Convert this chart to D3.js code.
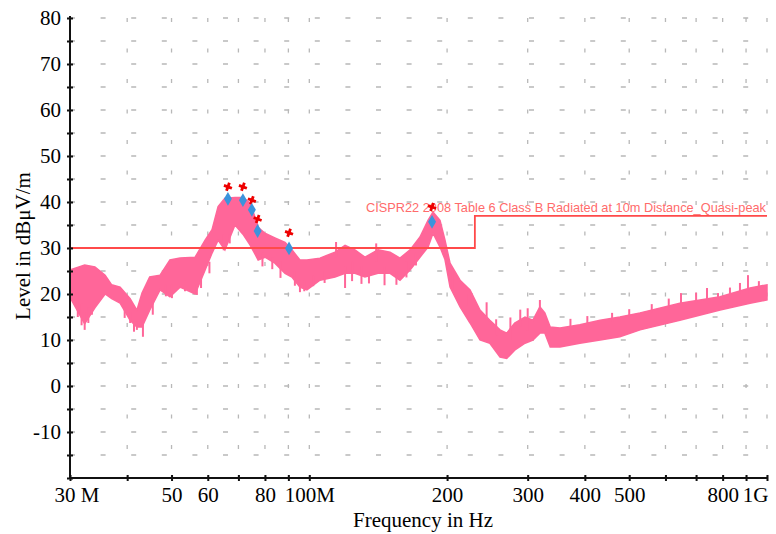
<!DOCTYPE html>
<html>
<head>
<meta charset="utf-8">
<script src="https://cdn.jsdelivr.net/npm/d3@7"></script>
<style>
  html, body { margin: 0; padding: 0; background: #fff; }
  svg { display: block; }
</style>
</head>
<body>
<svg id="chart"></svg>
<script>
// measured trace envelope (MHz, dBuV/m)
const freqs = [30, 32.3, 34.0, 35.8, 37.0, 38.6, 40.6, 42.0, 43.1, 44.8, 47.2, 49.6, 52.2, 56.3, 59.2, 61.3, 63.2, 65.4, 68.8, 71.6, 74.2, 75.8, 77.3, 80.0, 84.1, 88.5, 91.6, 95.4, 98.8, 105.5, 113.8, 119.7, 125.8, 132.3, 141.3, 150.1, 157.8, 166.0, 174.5, 181.7, 186.3, 193.0, 197.9, 203, 213.5, 224.5, 236, 248, 261, 270, 281, 296, 308, 319, 327, 336, 353, 390, 432, 477, 528, 645, 790, 918, 1000];
const upper = [25.2, 26.3, 25.9, 24.1, 22.0, 21.5, 19.0, 16.5, 20.2, 23.7, 24.1, 27.4, 27.8, 28.0, 31.7, 34.0, 39.0, 40.8, 41.0, 41.0, 39.8, 37.2, 34.5, 33.2, 32.2, 31.2, 29.6, 27.4, 27.4, 27.8, 29.1, 30.6, 29.6, 28.0, 29.6, 29.1, 27.8, 29.6, 32.4, 36.0, 37.8, 36.0, 31.7, 26.7, 23.0, 20.9, 16.5, 14.3, 12.2, 11.5, 13.7, 15.0, 14.3, 17.2, 15.9, 12.8, 12.6, 13.3, 14.3, 15.0, 15.9, 18.0, 19.4, 21.3, 22.0];
const lower = [19.3, 13.5, 17.0, 20.0, 19.0, 18.0, 14.3, 12.8, 12.8, 16.5, 20.9, 19.4, 21.5, 20.0, 25.2, 28.9, 31.7, 29.6, 35.0, 33.0, 30.7, 29.0, 27.4, 28.0, 26.7, 24.5, 23.7, 21.5, 20.9, 23.0, 23.7, 24.5, 24.5, 23.7, 24.5, 24.5, 23.0, 25.2, 28.0, 30.2, 33.2, 30.2, 27.5, 21.5, 17.2, 13.7, 10.0, 9.3, 6.3, 6.0, 7.8, 9.3, 10.0, 11.5, 11.5, 8.5, 8.5, 9.3, 10.0, 10.7, 12.2, 14.3, 16.5, 18.0, 18.7];

// single spikes sticking out of the band: [MHz, from, to]
const spikes = [
  [31.2, 20, 15], [31.8, 18, 13.2], [32.3, 16, 12.2], [32.9, 17, 13.7], [33.5, 18, 15.5],
  [39.5, 17, 14.8], [40.6, 16, 13.7], [41.4, 15, 11.8], [42.0, 14, 12.2], [43.3, 14, 10.7],
  [45.5, 19, 15.5], [48.6, 22, 19.5], [50.1, 22, 19.1], [53.5, 23, 20.6], [56.8, 22, 19.8],
  [58.0, 24, 21.3], [60.5, 27, 24.5], [65.0, 33, 29.5], [67.0, 33, 31.0], [79.0, 29, 26.0],
  [83.0, 28, 25.4], [86.5, 27, 23.5], [93.0, 25, 21.8], [95.4, 23, 20.4], [97.5, 23, 20.6],
  [102, 24, 21.7], [108, 25, 22.4], [114.4, 28, 31.3], [119.7, 26, 21.3], [124, 27, 22.8],
  [130, 26, 22.2], [135, 25, 22.3], [140, 27, 31.0], [146, 26, 21.9], [155, 25, 22.0],
  [163, 27, 23.6], [171, 29, 26.2], [206, 25, 21.0], [220, 20, 17.4], [244, 15, 18.2],
  [256, 11, 14.5], [275, 10, 14.9], [289, 13, 16.6], [300, 12, 16.9], [319, 15, 18.7],
  [372, 12, 14.6], [405, 13, 15.2], [458.7, 14, 15.9], [500, 15, 16.7], [560, 16, 17.8],
  [610, 17, 19.0], [648.7, 17, 20.2], [700, 18, 20.3], [739.5, 18, 21.3], [781.5, 19, 20.2],
  [830, 19, 21.4], [872.8, 20, 22.4], [908.7, 20, 24.1], [960, 21, 22.8]
];

// limit line: CISPR22 Class B, 10 m
const limitFreqs = [30, 230, 230, 1000];
const limitLevels = [30, 30, 37, 37];
const limitLabel = "CISPR22 2008 Table 6 Class B Radiated at 10m Distance_Quasi-peak";

// final measurement points
const qpFreqs = [66.4, 71.6, 74.9, 77.1, 90.3, 185.4];
const qpLevels = [40.7, 40.4, 38.3, 33.7, 29.9, 35.7];
const pkLevels = [43.3, 43.3, 40.4, 36.3, 33.3, 38.9];

const xTicks = [30, 40, 50, 60, 70, 80, 90, 100, 200, 300, 400, 500, 600, 700, 800, 900, 1000];
const xLabels = {30: "30 M", 50: "50", 60: "60", 80: "80", 100: "100M", 200: "200", 300: "300", 400: "400", 500: "500", 800: "800", 1000: "1G"};
const yTicks = d3.range(-20, 81, 5);
const yLabels = d3.range(-10, 81, 10);

const W = 776, H = 534;
const svg = d3.select("#chart").attr("width", W).attr("height", H);

const x = d3.scaleLog().domain([30, 1000]).range([70, 767]);
const y = d3.scaleLinear().domain([-20, 80]).range([478, 18]);

const serif = "'Times New Roman', 'Liberation Serif', serif";

// dashed grid
const grid = svg.append("g");
grid.selectAll("line.h")
  .data(yTicks.filter(v => v > -20))
  .enter().append("line")
  .attr("x1", x(30)).attr("x2", x(1000))
  .attr("y1", d => y(d)).attr("y2", d => y(d))
  .attr("stroke", "#b8b8b8").attr("stroke-width", 1.3)
  .attr("stroke-dasharray", "5,25.6");
grid.selectAll("line.v")
  .data(xTicks.slice(1))
  .enter().append("line")
  .attr("x1", d => x(d)).attr("x2", d => x(d))
  .attr("y1", y(80)).attr("y2", y(-20))
  .attr("stroke", "#b8b8b8").attr("stroke-width", 1.3)
  .attr("stroke-dasharray", "4,26.5");

// trace
const band = freqs.map((f, i) => ({f, hi: upper[i], lo: lower[i]}));
svg.append("path")
  .datum(band)
  .attr("fill", "#ff6699")
  .attr("stroke", "#ff6699")
  .attr("stroke-width", 1.5)
  .attr("d", d3.area().x(d => x(d.f)).y0(d => y(d.lo)).y1(d => y(d.hi)));

svg.append("g").selectAll("line")
  .data(spikes)
  .enter().append("line")
  .attr("x1", d => x(d[0])).attr("x2", d => x(d[0]))
  .attr("y1", d => y(d[1])).attr("y2", d => y(d[2]))
  .attr("stroke", "#ff6699").attr("stroke-width", 2);

// limit
svg.append("path")
  .datum(limitFreqs.map((f, i) => [f, limitLevels[i]]))
  .attr("fill", "none")
  .attr("stroke", "#ff4a4a")
  .attr("stroke-width", 1.8)
  .attr("d", d3.line().x(d => x(d[0])).y(d => y(d[1])));

svg.append("text")
  .attr("x", 366).attr("y", y(37) - 4)
  .attr("font-family", "Arial, 'Liberation Sans', sans-serif")
  .attr("font-size", 13)
  .attr("fill", "#ff6b6b")
  .attr("textLength", 400)
  .attr("lengthAdjust", "spacingAndGlyphs")
  .text(limitLabel);

// markers
svg.append("g").selectAll("path")
  .data(qpFreqs.map((f, i) => [f, pkLevels[i]]))
  .enter().append("path")
  .attr("transform", d => `translate(${x(d[0])},${y(d[1])}) rotate(20)`)
  .attr("d", d3.symbol().type(d3.symbolCross).size(40))
  .attr("fill", "#ee0000");

svg.append("g").selectAll("path")
  .data(qpFreqs.map((f, i) => [f, qpLevels[i]]))
  .enter().append("path")
  .attr("transform", d => `translate(${x(d[0])},${y(d[1])})`)
  .attr("d", d3.symbol().type(d3.symbolDiamond).size(55))
  .attr("fill", "#3b94dc");

// axes
const xAxis = svg.append("g")
  .attr("transform", `translate(0,${y(-20)})`)
  .call(d3.axisBottom(x).tickValues(xTicks).tickSize(3).tickPadding(6)
    .tickFormat(d => xLabels[d] || ""));
xAxis.select(".domain").remove();
xAxis.selectAll(".tick line").attr("y1", -3).attr("stroke", "#111").attr("stroke-width", 2);
xAxis.selectAll(".tick text")
  .attr("font-family", serif).attr("font-size", 21).attr("fill", "#000");
xAxis.selectAll(".tick text").filter(d => d === 30).attr("text-anchor", "start").attr("dx", -16);
xAxis.selectAll(".tick text").filter(d => d === 1000).attr("text-anchor", "end").attr("dx", 1);

const yAxis = svg.append("g")
  .attr("transform", `translate(${x(30)},0)`)
  .call(d3.axisLeft(y).tickValues(yTicks).tickSize(3).tickPadding(6)
    .tickFormat(d => yLabels.includes(d) ? d : ""));
yAxis.select(".domain").remove();
yAxis.selectAll(".tick line").attr("x1", 3).attr("stroke", "#111").attr("stroke-width", 2);
yAxis.selectAll(".tick text")
  .attr("font-family", serif).attr("font-size", 21).attr("fill", "#000");

svg.append("line")
  .attr("x1", x(30)).attr("x2", x(1000)).attr("y1", y(-20)).attr("y2", y(-20))
  .attr("stroke", "#111").attr("stroke-width", 2);
svg.append("line")
  .attr("x1", x(30)).attr("x2", x(30)).attr("y1", y(80) - 2).attr("y2", y(-20))
  .attr("stroke", "#111").attr("stroke-width", 2);

svg.append("text")
  .attr("x", 423).attr("y", 527)
  .attr("text-anchor", "middle")
  .attr("font-family", serif).attr("font-size", 21)
  .text("Frequency in Hz");

svg.append("text")
  .attr("transform", "translate(30,246) rotate(-90)")
  .attr("text-anchor", "middle")
  .attr("font-family", serif).attr("font-size", 21)
  .text("Level in dBμV/m");
</script>
</body>
</html>
